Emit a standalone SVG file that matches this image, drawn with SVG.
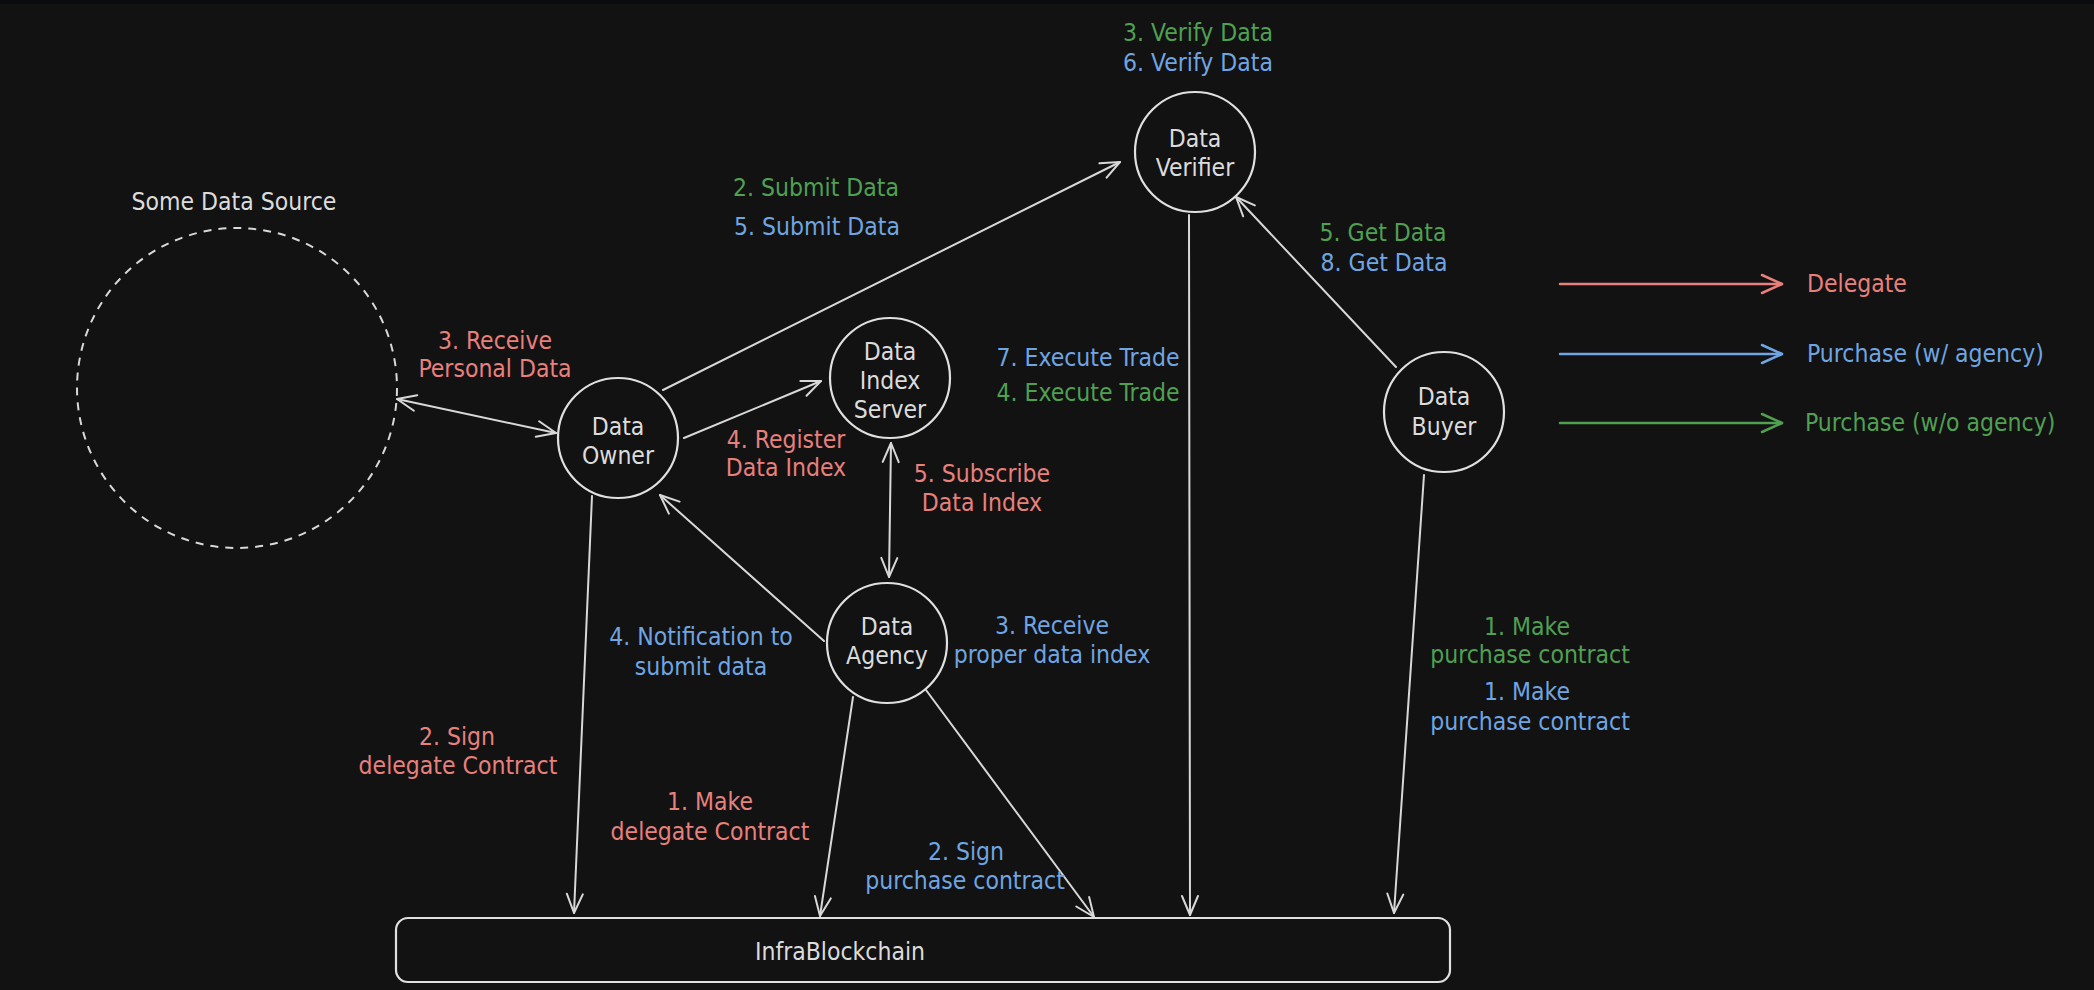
<svg xmlns="http://www.w3.org/2000/svg" width="2094" height="990" viewBox="0 0 2094 990">
<style>
text{font-family:"DejaVu Sans Condensed","Liberation Sans",sans-serif;font-size:24.5px;text-anchor:middle}
.w{fill:#dcdcdc}
.r{fill:#e8807c}
.b{fill:#6fa5e2}
.g{fill:#50a052}
.ln{stroke:#d8d8d8;stroke-width:2;fill:none;stroke-linecap:round}
.node{stroke:#e0e0e0;stroke-width:2.2;fill:none}
.st{text-anchor:start}
</style>
<defs>
<marker id="ah" viewBox="-22 -11 24 22" refX="0" refY="0" markerWidth="24" markerHeight="22" markerUnits="userSpaceOnUse" orient="auto-start-reverse">
<path d="M-19,-8 L0,0 L-19,8" fill="none" stroke="#d8d8d8" stroke-width="2" stroke-linecap="round" stroke-linejoin="round"/>
</marker>
<marker id="ahr" viewBox="-22 -11 24 22" refX="0" refY="0" markerWidth="24" markerHeight="22" markerUnits="userSpaceOnUse" orient="auto">
<path d="M-20,-9 L0,0 L-20,9" fill="none" stroke="#e8807c" stroke-width="2.5" stroke-linecap="round" stroke-linejoin="round"/>
</marker>
<marker id="ahb" viewBox="-22 -11 24 22" refX="0" refY="0" markerWidth="24" markerHeight="22" markerUnits="userSpaceOnUse" orient="auto">
<path d="M-20,-9 L0,0 L-20,9" fill="none" stroke="#6fa5e2" stroke-width="2.5" stroke-linecap="round" stroke-linejoin="round"/>
</marker>
<marker id="ahg" viewBox="-22 -11 24 22" refX="0" refY="0" markerWidth="24" markerHeight="22" markerUnits="userSpaceOnUse" orient="auto">
<path d="M-20,-9 L0,0 L-20,9" fill="none" stroke="#50a052" stroke-width="2.5" stroke-linecap="round" stroke-linejoin="round"/>
</marker>
</defs>
<rect x="0" y="0" width="2094" height="990" fill="#121212"/>
<rect x="0" y="0" width="2094" height="4" fill="#0a0c0f"/>

<g id="data-source">
<circle cx="237" cy="388" r="160" fill="none" stroke="#d8d8d8" stroke-width="2" stroke-dasharray="8 7"/>
<text class="w" x="234" y="210">Some Data Source</text>
</g>
<g id="data-owner">
<circle class="node" cx="618" cy="438" r="60"/>
<text class="w" x="618" y="435">Data</text>
<text class="w" x="618" y="464">Owner</text>
</g>
<g id="data-verifier">
<circle class="node" cx="1195" cy="152" r="60"/>
<text class="w" x="1195" y="147">Data</text>
<text class="w" x="1195" y="176">Verifier</text>
</g>
<g id="data-index-server">
<circle class="node" cx="890" cy="378" r="60"/>
<text class="w" x="890" y="360">Data</text>
<text class="w" x="890" y="389">Index</text>
<text class="w" x="890" y="418">Server</text>
</g>
<g id="data-agency">
<circle class="node" cx="887" cy="643" r="60"/>
<text class="w" x="887" y="635">Data</text>
<text class="w" x="887" y="664">Agency</text>
</g>
<g id="data-buyer">
<circle class="node" cx="1444" cy="412" r="60"/>
<text class="w" x="1444" y="405">Data</text>
<text class="w" x="1444" y="435">Buyer</text>
</g>
<g id="infrablockchain">
<rect class="node" x="396" y="918" width="1054" height="64" rx="12"/>
<text class="w" x="840" y="960">InfraBlockchain</text>
</g>

<g id="connectors">
<line class="ln" x1="397" y1="399" x2="556" y2="433" marker-start="url(#ah)" marker-end="url(#ah)"/>
<line class="ln" x1="663" y1="390" x2="1120" y2="162" marker-end="url(#ah)"/>
<line class="ln" x1="684" y1="438" x2="821" y2="381" marker-end="url(#ah)"/>
<line class="ln" x1="891" y1="443" x2="889" y2="577" marker-start="url(#ah)" marker-end="url(#ah)"/>
<line class="ln" x1="824" y1="641" x2="660" y2="495" marker-end="url(#ah)"/>
<line class="ln" x1="592" y1="496" x2="574" y2="913" marker-end="url(#ah)"/>
<line class="ln" x1="853" y1="697" x2="820" y2="916" marker-end="url(#ah)"/>
<line class="ln" x1="926" y1="690" x2="1094" y2="917" marker-end="url(#ah)"/>
<line class="ln" x1="1189" y1="215" x2="1190" y2="915" marker-end="url(#ah)"/>
<line class="ln" x1="1396" y1="367" x2="1236" y2="197" marker-end="url(#ah)"/>
<line class="ln" x1="1424" y1="475" x2="1394" y2="913" marker-end="url(#ah)"/>
<line x1="1560" y1="284" x2="1782" y2="284" stroke="#e8807c" stroke-width="2.5" stroke-linecap="round" marker-end="url(#ahr)"/>
<line x1="1560" y1="354" x2="1782" y2="354" stroke="#6fa5e2" stroke-width="2.5" stroke-linecap="round" marker-end="url(#ahb)"/>
<line x1="1560" y1="423" x2="1782" y2="423" stroke="#50a052" stroke-width="2.5" stroke-linecap="round" marker-end="url(#ahg)"/>
</g>

<g id="labels">
<text class="g" x="1198" y="41">3. Verify Data</text>
<text class="b" x="1198" y="71">6. Verify Data</text>
<text class="g" x="816" y="196">2. Submit Data</text>
<text class="b" x="817" y="235">5. Submit Data</text>
<text class="r" x="495" y="349">3. Receive</text>
<text class="r" x="495" y="377">Personal Data</text>
<text class="r" x="786" y="448">4. Register</text>
<text class="r" x="786" y="476">Data Index</text>
<text class="r" x="982" y="482">5. Subscribe</text>
<text class="r" x="982" y="511">Data Index</text>
<text class="b" x="1088" y="366">7. Execute Trade</text>
<text class="g" x="1088" y="401">4. Execute Trade</text>
<text class="g" x="1383" y="241">5. Get Data</text>
<text class="b" x="1384" y="271">8. Get Data</text>
<text class="b" x="701" y="645">4. Notification to</text>
<text class="b" x="701" y="675">submit data</text>
<text class="b" x="1052" y="634">3. Receive</text>
<text class="b" x="1052" y="663">proper data index</text>
<text class="r" x="457" y="745">2. Sign</text>
<text class="r" x="458" y="774">delegate Contract</text>
<text class="r" x="710" y="810">1. Make</text>
<text class="r" x="710" y="840">delegate Contract</text>
<text class="b" x="966" y="860">2. Sign</text>
<text class="b" x="965" y="889">purchase contract</text>
<text class="g" x="1527" y="635">1. Make</text>
<text class="g" x="1530" y="663">purchase contract</text>
<text class="b" x="1527" y="700">1. Make</text>
<text class="b" x="1530" y="730">purchase contract</text>
<text class="r st" x="1807" y="292">Delegate</text>
<text class="b st" x="1807" y="362">Purchase (w/ agency)</text>
<text class="g st" x="1805" y="431">Purchase (w/o agency)</text>
</g>
</svg>
